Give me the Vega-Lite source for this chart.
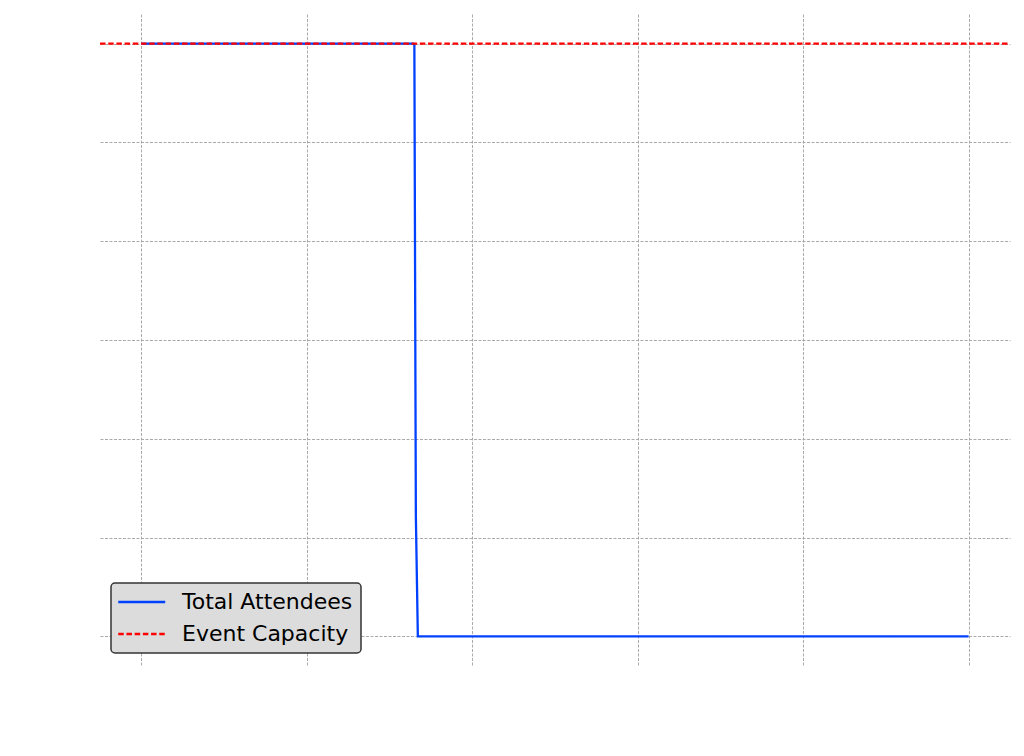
{
  "$schema": "https://vega.github.io/schema/vega-lite/v6.json",
  "width": 910,
  "height": 652,
  "autosize": "none",
  "padding": {"left": 100, "top": 14, "right": 14, "bottom": 90},
  "background": "white",
  "config": {"view": {"stroke": null}},
  "data": {
    "values": [
      {"series": "Total Attendees", "x": 0, "y": 600},
      {"series": "Total Attendees", "x": 1.65, "y": 600},
      {"series": "Total Attendees", "x": 1.659, "y": 122},
      {"series": "Total Attendees", "x": 1.671, "y": 0},
      {"series": "Total Attendees", "x": 5, "y": 0},
      {"series": "Event Capacity", "x": -0.25, "y": 600},
      {"series": "Event Capacity", "x": 5.25, "y": 600}
    ]
  },
  "mark": {"type": "line", "strokeWidth": 2.3, "clip": true},
  "encoding": {
    "x": {
      "field": "x", "type": "quantitative",
      "scale": {"domain": [-0.25, 5.25], "nice": false, "zero": false},
      "axis": {"values": [0, 1, 2, 3, 4, 5], "labels": false, "ticks": false, "domain": false, "title": null,
        "grid": true, "gridColor": "#a0a0a0", "gridDash": [3, 1.5], "gridWidth": 0.9}
    },
    "y": {
      "field": "y", "type": "quantitative",
      "scale": {"domain": [-30, 630], "nice": false, "zero": false},
      "axis": {"values": [0, 100, 200, 300, 400, 500, 600], "labels": false, "ticks": false, "domain": false, "title": null,
        "grid": true, "gridColor": "#a0a0a0", "gridDash": [3, 1.5], "gridWidth": 0.9}
    },
    "color": {
      "field": "series", "type": "nominal",
      "scale": {"domain": ["Total Attendees", "Event Capacity"], "range": ["#0040ff", "#ff0000"]},
      "legend": {
        "title": null, "orient": "none", "legendX": 11, "legendY": 569,
        "fillColor": "#dcdcdc", "strokeColor": "#333333", "cornerRadius": 4, "padding": 8,
        "symbolType": "M-1.5,0H4.5", "symbolSize": 245, "symbolStrokeWidth": 2.3,
        "labelFont": "DejaVu Sans", "labelFontSize": 22, "labelColor": "#000000", "labelOffset": 41, "labelLimit": 400,
        "rowPadding": 10,
        "encode": {"legend": {"update": {"strokeWidth": {"value": 1.5}}}}
      }
    },
    "strokeDash": {
      "field": "series", "type": "nominal",
      "scale": {"domain": ["Total Attendees", "Event Capacity"], "range": [[1, 0], [5.5, 2.7]]},
      "legend": {
        "title": null, "orient": "none", "legendX": 11, "legendY": 569,
        "fillColor": "#dcdcdc", "strokeColor": "#333333", "cornerRadius": 4, "padding": 8,
        "symbolType": "M-1.5,0H4.5", "symbolSize": 245, "symbolStrokeWidth": 2.3,
        "labelFont": "DejaVu Sans", "labelFontSize": 22, "labelColor": "#000000", "labelOffset": 41, "labelLimit": 400,
        "rowPadding": 10,
        "encode": {"legend": {"update": {"strokeWidth": {"value": 1.5}}}}
      }
    }
  }
}
